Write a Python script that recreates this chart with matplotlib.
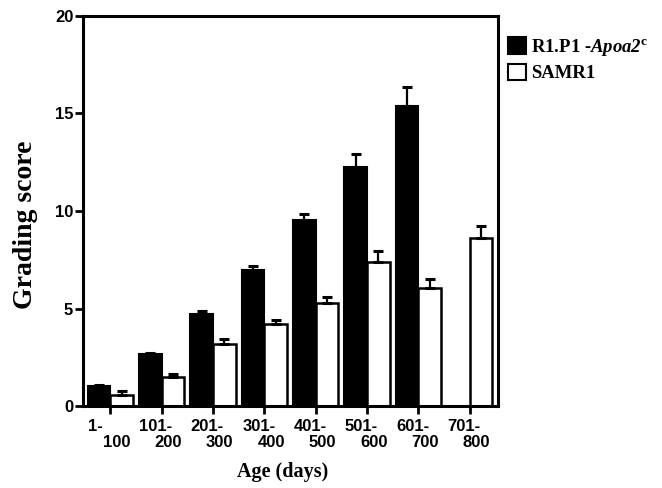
import numpy as np
import matplotlib
matplotlib.use("Agg")
import matplotlib.pyplot as plt
from matplotlib.patches import Patch
from matplotlib.transforms import blended_transform_factory

plt.rcParams['mathtext.fontset'] = 'custom'
plt.rcParams['mathtext.rm'] = 'Liberation Serif:bold'
plt.rcParams['mathtext.it'] = 'Liberation Serif:italic:bold'
plt.rcParams['mathtext.bf'] = 'Liberation Serif:italic:bold'

# ---- data ----
groups_top = ["1-", "101-", "201-", "301-", "401-", "501-", "601-", "701-"]
groups_bottom = ["100", "200", "300", "400", "500", "600", "700", "800"]
r1p1 = [1.02, 2.65, 4.72, 7.0, 9.54, 12.26, 15.39, np.nan]
r1p1_err = [0.05, 0.10, 0.17, 0.2, 0.29, 0.68, 0.97, np.nan]
samr1 = [0.55, 1.48, 3.17, 4.22, 5.27, 7.37, 6.07, 8.6]
samr1_err = [0.25, 0.15, 0.26, 0.22, 0.34, 0.6, 0.45, 0.64]
yticks = [0, 5, 10, 15, 20]

fig = plt.figure(figsize=(6.62, 4.88), dpi=100)
ax = fig.add_axes([83/662, 1-406.2/488, 415/662, 390.5/488])

x = np.arange(len(groups_top))
w = 0.44
ekw = dict(elinewidth=1.6, capthick=2.2, capsize=3.5, ecolor='black')

mask = ~np.isnan(r1p1)
ax.bar(x[mask] - w/2, np.array(r1p1)[mask], w, color='black', edgecolor='black',
       linewidth=1.5,
       yerr=[np.zeros(mask.sum()), np.array(r1p1_err)[mask]], error_kw=ekw, zorder=2)
ax.bar(x + w/2, samr1, w, color='white', edgecolor='black', linewidth=1.8,
       yerr=[np.zeros(len(samr1)), samr1_err], error_kw=ekw, zorder=2)

ax.set_xlim(-0.53, 7.55)
ax.set_ylim(0, 20)
for s in ax.spines.values():
    s.set_linewidth(2.2)

ax.set_yticks(yticks)
ax.set_yticklabels([str(v) for v in yticks], fontfamily='Liberation Sans',
                   fontweight='bold', fontsize=12)
ax.tick_params(axis='y', direction='out', length=6, width=2, pad=1)
ax.set_xticks(x)
ax.set_xticklabels([])
ax.tick_params(axis='x', direction='out', length=6, width=2)

tr = blended_transform_factory(ax.transData, ax.transAxes)
for xi, t, b in zip(x, groups_top, groups_bottom):
    ax.text(xi - 0.43, -0.051, t, transform=tr, ha='left', va='center',
            fontfamily='Liberation Sans', fontweight='bold', fontsize=12)
    ax.text(xi + 0.40, -0.094, b, transform=tr, ha='right', va='center',
            fontfamily='Liberation Sans', fontweight='bold', fontsize=12)

ax.set_xlabel("Age (days)", fontfamily='Liberation Serif', fontweight='bold',
              fontsize=14.5)
ax.xaxis.set_label_coords(0.48, -0.143)
ax.set_ylabel("Grading score", fontfamily='Liberation Serif', fontweight='bold',
              fontsize=20)
ax.yaxis.label.set_va('center')
ax.yaxis.set_label_coords(-0.138, 0.464)

handles = [Patch(facecolor='black', edgecolor='black', linewidth=1.5),
           Patch(facecolor='white', edgecolor='black', linewidth=1.5)]
labels = [r"R1.P1 -$\mathbf{Apoa2}^{\mathrm{c}}$", "SAMR1"]
fig.legend(handles, labels, loc='upper left', bbox_to_anchor=(508/662, 1-37/488),
           frameon=False, handlelength=0.95, handleheight=1.0, handletextpad=0.3,
           labelspacing=0.3, borderaxespad=0, borderpad=0,
           prop={'family': 'Liberation Serif', 'weight': 'bold', 'size': 13.5})

fig.savefig("out.png", dpi=100)
